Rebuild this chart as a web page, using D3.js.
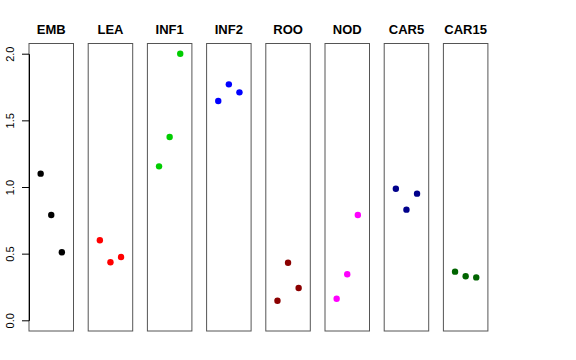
<!DOCTYPE html>
<html>
<head>
<meta charset="utf-8">
<script src="https://cdn.jsdelivr.net/npm/d3@7"></script>
<style>
  body { margin: 0; background: #fff; }
  svg { display: block; font-family: "Liberation Sans", Arial, sans-serif; }
</style>
</head>
<body>
<div id="chart"></div>
<script>
const groups = ["EMB", "LEA", "INF1", "INF2", "ROO", "NOD", "CAR5", "CAR15"];
const colors = ["#000000", "#FF0000", "#00CD00", "#0000FF", "#8B0000", "#FF00FF", "#00008B", "#006400"];
const values = [
    [1.10, 0.79, 0.51],
    [0.60, 0.435, 0.475],
    [1.155, 1.375, 2.00],
    [1.645, 1.77, 1.71],
    [0.147, 0.432, 0.242],
    [0.162, 0.345, 0.79],
    [0.987, 0.83, 0.95],
    [0.365, 0.33, 0.322]
];
const yTicks = [0, 0.5, 1.0, 1.5, 2.0];

const width = 576, height = 360;
const panelLeft = 29, panelStep = 59.2, panelW = 44.5;
const panelTop = 43.5, panelBottom = 331;

const svg = d3.select("#chart")
    .append("svg")
    .attr("width", width)
    .attr("height", height);

const y = d3.scaleLinear().domain([0, 2]).range([320.3, 53.7]);
const x = d3.scaleLinear().domain([-0.1, 4.1]).range([0, panelW]);

groups.forEach((name, i) => {
    const g = svg.append("g")
        .attr("transform", `translate(${panelLeft + i * panelStep},0)`);

    g.append("rect")
        .attr("x", 0)
        .attr("y", panelTop)
        .attr("width", panelW)
        .attr("height", panelBottom - panelTop)
        .attr("fill", "none")
        .attr("stroke", "#555")
        .attr("stroke-width", 1);

    g.append("text")
        .attr("x", panelW / 2)
        .attr("y", 34)
        .attr("text-anchor", "middle")
        .attr("font-weight", "bold")
        .attr("font-size", 13)
        .text(name);

    g.selectAll("circle")
        .data(values[i]).enter()
        .append("circle")
        .attr("cx", (d, j) => x(j + 1))
        .attr("cy", d => y(d))
        .attr("r", 3.2)
        .attr("fill", colors[i]);
});

// y-as links
const yAxis = svg.append("g")
    .attr("transform", `translate(${panelLeft},0)`)
    .call(d3.axisLeft(y).tickValues(yTicks).tickFormat(d3.format(".1f")).tickSize(7).tickSizeOuter(0));

yAxis.select(".domain").attr("stroke", "#000");
yAxis.selectAll(".tick line").attr("stroke", "#000");
yAxis.selectAll(".tick text")
    .attr("font-size", 11)
    .attr("font-family", "Liberation Sans, Arial, sans-serif")
    .attr("fill", "#000")
    .attr("text-anchor", "middle")
    .attr("x", 0)
    .attr("dy", 0)
    .attr("transform", "translate(-15,0) rotate(-90)");
</script>
</body>
</html>
